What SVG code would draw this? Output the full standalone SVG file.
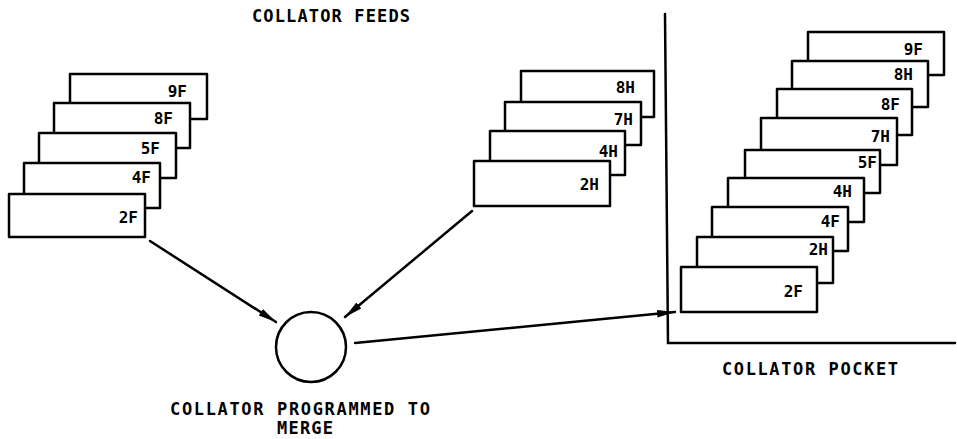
<svg xmlns="http://www.w3.org/2000/svg" width="957" height="439" viewBox="0 0 957 439">
  <style>
    .card { fill: #fff; stroke: #000; stroke-width: 2.5; stroke-linejoin: round; }
    .lbl { font-family: "DejaVu Sans Mono", "Liberation Mono", monospace; font-weight: bold; font-size: 16px; fill: #000; text-anchor: end; }
    .cap { font-family: "DejaVu Sans Mono", "Liberation Mono", monospace; font-weight: bold; font-size: 17px; fill: #000; }
    .line { fill: none; stroke: #000; stroke-width: 2.5; stroke-linecap: round; }
  </style>
  <defs>
    <marker id="arrow" markerUnits="userSpaceOnUse" markerWidth="20" markerHeight="10" refX="18" refY="5" orient="auto">
      <path d="M0,1.2 L18,5 L0,8.8 Z" fill="#000"/>
    </marker>
  </defs>

  <rect width="957" height="439" fill="#fff"/>

  <!-- titles -->
  <text class="cap" x="252" y="22" textLength="158" lengthAdjust="spacing">COLLATOR FEEDS</text>
  <text class="cap" x="170" y="415" textLength="260" lengthAdjust="spacing">COLLATOR PROGRAMMED TO</text>
  <text class="cap" x="277" y="434" textLength="56" lengthAdjust="spacing">MERGE</text>
  <text class="cap" x="722" y="375" textLength="176" lengthAdjust="spacing">COLLATOR POCKET</text>

  <!-- feed 1: F cards, back to front -->
  <g id="feed-f">
    <g id="feed-f-9F"><rect class="card" x="70" y="74" width="137" height="45"/><text class="lbl" x="187" y="97">9F</text></g>
    <g id="feed-f-8F"><rect class="card" x="54" y="103" width="136" height="45"/><text class="lbl" x="173" y="124">8F</text></g>
    <g id="feed-f-5F"><rect class="card" x="39" y="133" width="137" height="45"/><text class="lbl" x="160" y="154">5F</text></g>
    <g id="feed-f-4F"><rect class="card" x="24" y="163" width="136" height="45"/><text class="lbl" x="151" y="183">4F</text></g>
    <g id="feed-f-2F"><rect class="card" x="9" y="194" width="136" height="43"/><text class="lbl" x="138" y="223">2F</text></g>
  </g>

  <!-- feed 2: H cards, back to front -->
  <g id="feed-h">
    <g id="feed-h-8H"><rect class="card" x="521" y="71" width="133" height="46"/><text class="lbl" x="635" y="93">8H</text></g>
    <g id="feed-h-7H"><rect class="card" x="505" y="102" width="136" height="43"/><text class="lbl" x="633" y="125">7H</text></g>
    <g id="feed-h-4H"><rect class="card" x="490" y="131" width="135" height="44"/><text class="lbl" x="618" y="157">4H</text></g>
    <g id="feed-h-2H"><rect class="card" x="474" y="161" width="136" height="45"/><text class="lbl" x="599" y="190">2H</text></g>
  </g>

  <!-- merge station -->
  <g id="collator">
    <circle cx="311" cy="347" r="35" fill="#fff" stroke="#000" stroke-width="2.5"/>
  </g>

  <!-- pocket frame -->
  <g id="pocket-frame">
    <polyline class="line" points="665,14 668,343 955,343"/>
  </g>

  <!-- pocket: merged cards, back to front -->
  <g id="pocket">
    <g id="pocket-9F"><rect class="card" x="808" y="32" width="136" height="43"/><text class="lbl" x="923" y="55">9F</text></g>
    <g id="pocket-8H"><rect class="card" x="792" y="61" width="136" height="46"/><text class="lbl" x="913" y="80">8H</text></g>
    <g id="pocket-8F"><rect class="card" x="777" y="89" width="135" height="46"/><text class="lbl" x="900" y="110">8F</text></g>
    <g id="pocket-7H"><rect class="card" x="761" y="118" width="136" height="47"/><text class="lbl" x="890" y="142">7H</text></g>
    <g id="pocket-5F"><rect class="card" x="745" y="150" width="135" height="43"/><text class="lbl" x="877" y="168">5F</text></g>
    <g id="pocket-4H"><rect class="card" x="728" y="178" width="136" height="44"/><text class="lbl" x="852" y="197">4H</text></g>
    <g id="pocket-4F"><rect class="card" x="712" y="207" width="136" height="44"/><text class="lbl" x="840" y="227">4F</text></g>
    <g id="pocket-2H"><rect class="card" x="697" y="237" width="136" height="46"/><text class="lbl" x="828" y="255">2H</text></g>
    <g id="pocket-2F"><rect class="card" x="681" y="267" width="136" height="45"/><text class="lbl" x="803" y="297">2F</text></g>
  </g>

  <!-- card flow -->
  <g id="connectors">
    <line class="line" x1="150" y1="241" x2="276" y2="322" marker-end="url(#arrow)"/>
    <line class="line" x1="472" y1="211" x2="345" y2="317" marker-end="url(#arrow)"/>
    <line class="line" x1="355" y1="343" x2="675" y2="312" marker-end="url(#arrow)"/>
  </g>
</svg>
